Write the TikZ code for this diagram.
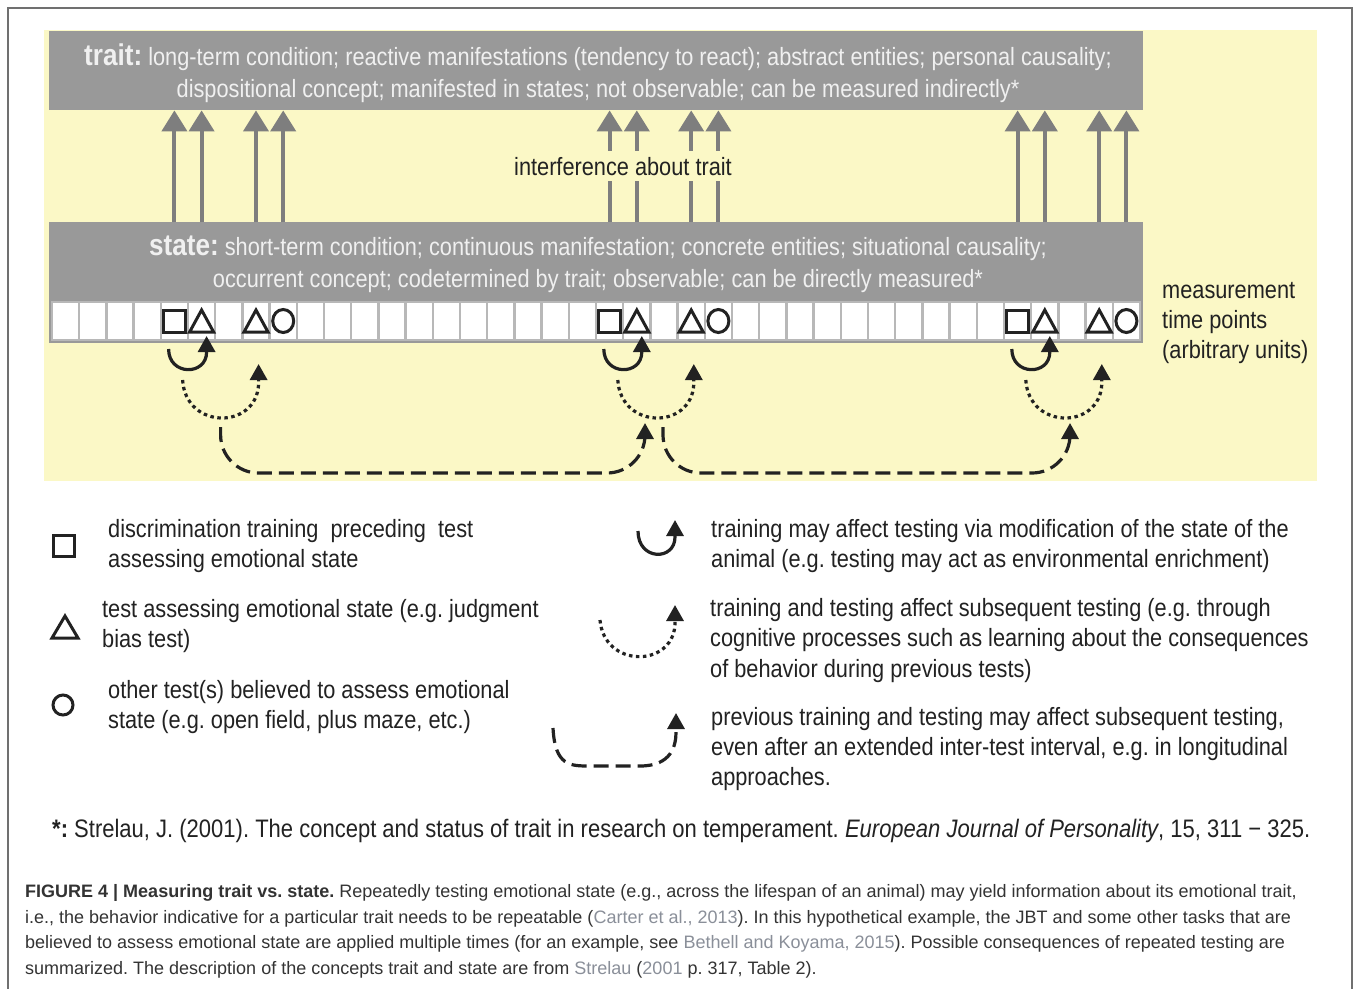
\documentclass[tikz,border=0pt]{standalone}
\usepackage{fontspec}
\setmainfont{Liberation Sans}
\newfontfamily\cond{Liberation Sans}[FakeStretch=0.87]
\usetikzlibrary{arrows.meta}
\definecolor{bgyellow}{HTML}{FBF8C6}
\definecolor{boxgray}{HTML}{999999}
\definecolor{arrgray}{HTML}{7E7E7E}
\definecolor{boxtext}{HTML}{F0F0F0}
\definecolor{ink}{HTML}{222222}
\definecolor{captext}{HTML}{333333}
\definecolor{linkgray}{HTML}{8A8F99}
\definecolor{cellline}{HTML}{B8B8B8}
\definecolor{framegray}{HTML}{707070}
\frenchspacing
\begin{document}
\begin{tikzpicture}[x=1pt,y=-1pt,
  big/.style={font=\cond\fontsize{25}{30}\selectfont, inner sep=0pt},
  boxt/.style={big, text=boxtext, anchor=base},
  blk/.style={big, text=ink, anchor=base west},
  captxt/.style={font=\fontsize{18}{22}\selectfont, text=captext, anchor=base west, inner sep=0pt},
  graybox/.style={fill=boxgray, draw=none, anchor=north west, inner sep=0pt},
  cell/.style={fill=white, draw=cellline, line width=2.5pt, minimum width=27.2pt, minimum height=38pt, inner sep=0pt},
  grayarr/.style={draw=arrgray, line width=4pt, -{Triangle[width=25pt,length=21pt]}},
  blkarr/.style={draw=ink, line width=3.2pt, -{Triangle[width=17pt,length=16pt]}},
  dotarr/.style={blkarr, dash pattern=on 3.5pt off 3.5pt},
  dasharr/.style={blkarr, dash pattern=on 15pt off 7pt},
  sym/.style={draw=ink, line width=3pt, line join=miter},
]
\useasboundingbox (0,0) rectangle (1356,988);
\fill[white] (0,0) rectangle (1356,988);
\draw[framegray, line width=1.5pt] (8,1000) -- (8,8) -- (1352,8) -- (1352,1000);

% background
\fill[bgyellow] (44,30) rectangle (1317,481);

% boxes
\node[graybox, minimum width=1094pt, minimum height=79pt] (trait) at (49,31) {};
\node[graybox, minimum width=1094pt, minimum height=121pt] (state) at (49,222) {};

\node[boxt] (traitl1) at (598,65) {{\fontsize{30}{30}\selectfont\bfseries trait:} long-term condition; reactive manifestations (tendency to react); abstract entities; personal causality;};
\node[boxt] (traitl2) at (598,97) {dispositional concept; manifested in states; not observable; can be measured indirectly*};
\node[boxt] (statel1) at (598,255) {{\fontsize{30}{30}\selectfont\bfseries state:} short-term condition; continuous manifestation; concrete entities; situational causality;};
\node[boxt] (statel2) at (598,287) {occurrent concept; codetermined by trait; observable; can be directly measured*};

% cells
\foreach \i in {0,...,39} {
  \node[cell] (c\i) at ({52+(\i+0.5)*27.2}, 321) {};
}

% symbols in cells
\foreach \s/\t/\u/\o in {4/5/7/8, 20/21/23/24, 35/36/38/39} {
  \draw[sym] (c\s.center) +(-11,-11) rectangle +(11,11);
  \draw[sym] (c\t.center) +(-12,11) -- +(0,-11) -- +(12,11) -- cycle;
  \draw[sym] (c\u.center) +(-12,11) -- +(0,-11) -- +(12,11) -- cycle;
  \draw[sym] (c\o.center) ellipse [x radius=10.5, y radius=11.5];
}

% gray arrows state -> trait
\foreach \i in {4,5,7,8,20,21,23,24,35,36,38,39} {
  \draw[grayarr] (state.north -| c\i) -- (trait.south -| c\i);
}
\node[big, text=ink, fill=bgyellow, inner xsep=3pt, inner ysep=6pt, anchor=base] (interf) at (623,175) {interference about trait};

% measurement label
\node[blk] (meas1) at (1162,298) {measurement};
\node[blk] (meas2) at (1162,328) {time points};
\node[blk] (meas3) at (1162,358) {(arbitrary units)};

% black arrows under the cells
\foreach \g/\X in {1/201.6, 2/636.8, 3/1044.8} {
  \draw[blkarr] ({\X-33},349) .. controls ({\X-33},376) and ({\X+5},376) .. ({\X+5},352) -- ({\X+5},336);
  \draw[dotarr] ({\X-19},380) .. controls ({\X-16},430) and ({\X+55},430) .. ({\X+57},384) -- ({\X+57},364);
  \coordinate (dstart\g) at ({\X+19},427);
}
\coordinate (dend2) at (645,423);
\coordinate (dend3) at (1070,423);
\draw[dasharr, rounded corners=38pt] (dstart1) -- (dstart1 |- 0,473) -- (dend2 |- 0,473) -- (dend2);
\draw[dasharr, rounded corners=38pt] (663,427) -- (663,473) -- (dend3 |- 0,473) -- (dend3);

% legend, left
\draw[sym] (53,535) rectangle (74,556);
\draw[sym] (52,638) -- (65,616) -- (78,638) -- cycle;
\draw[sym] (63,705) circle [radius=10];
\node[blk] (l1a) at (108,537) {discrimination training\ \ preceding\ \ test};
\node[blk] (l1b) at (108,567) {assessing emotional state};
\node[blk] (l2a) at (102,617) {test assessing emotional state (e.g. judgment};
\node[blk] (l2b) at (102,647) {bias test)};
\node[blk] (l3a) at (108,698) {other test(s) believed to assess emotional};
\node[blk] (l3b) at (108,728) {state (e.g. open field, plus maze, etc.)};

% legend, right
\draw[blkarr] (638,531) .. controls (638,561) and (675,561) .. (675,537) -- (675,520);
\draw[dotarr] (600,620) .. controls (604,668) and (672,668) .. (675,625) -- (675,605);
\draw[dasharr] (553,728) .. controls (555,766) and (570,766) .. (590,766) -- (640,766) .. controls (672,766) and (676,745) .. (676,732) -- (676,713);
\node[blk] (r1a) at (711,537) {training may affect testing via modification of the state of the};
\node[blk] (r1b) at (711,567) {animal (e.g. testing may act as environmental enrichment)};
\node[blk] (r2a) at (710,616) {training and testing affect subsequent testing (e.g. through};
\node[blk] (r2b) at (710,646) {cognitive processes such as learning about the consequences};
\node[blk] (r2c) at (710,677) {of behavior during previous tests)};
\node[blk] (r3a) at (711,725) {previous training and testing may affect subsequent testing,};
\node[blk] (r3b) at (711,755) {even after an extended inter-test interval, e.g. in longitudinal};
\node[blk] (r3c) at (711,785) {approaches.};

% footnote
\node[blk, font=\cond\fontsize{25.3}{30}\selectfont] (foot) at (52,837) {{\bfseries *:} Strelau, J. (2001). The concept and status of trait in research on temperament. \textit{European Journal of Personality}, 15, 311 − 325.};

% caption
\node[captxt] (cap1) at (25,897) {{\bfseries FIGURE 4 | Measuring trait vs. state.} Repeatedly testing emotional state (e.g., across the lifespan of an animal) may yield information about its emotional trait,};
\node[captxt] (cap2) at (25,923) {i.e., the behavior indicative for a particular trait needs to be repeatable ({\color{linkgray}Carter et al., 2013}). In this hypothetical example, the JBT and some other tasks that are};
\node[captxt] (cap3) at (25,948) {believed to assess emotional state are applied multiple times (for an example, see {\color{linkgray}Bethell and Koyama, 2015}). Possible consequences of repeated testing are};
\node[captxt] (cap4) at (25,974) {summarized. The description of the concepts trait and state are from {\color{linkgray}Strelau} ({\color{linkgray}2001} p. 317, Table 2).};
\end{tikzpicture}
\end{document}
